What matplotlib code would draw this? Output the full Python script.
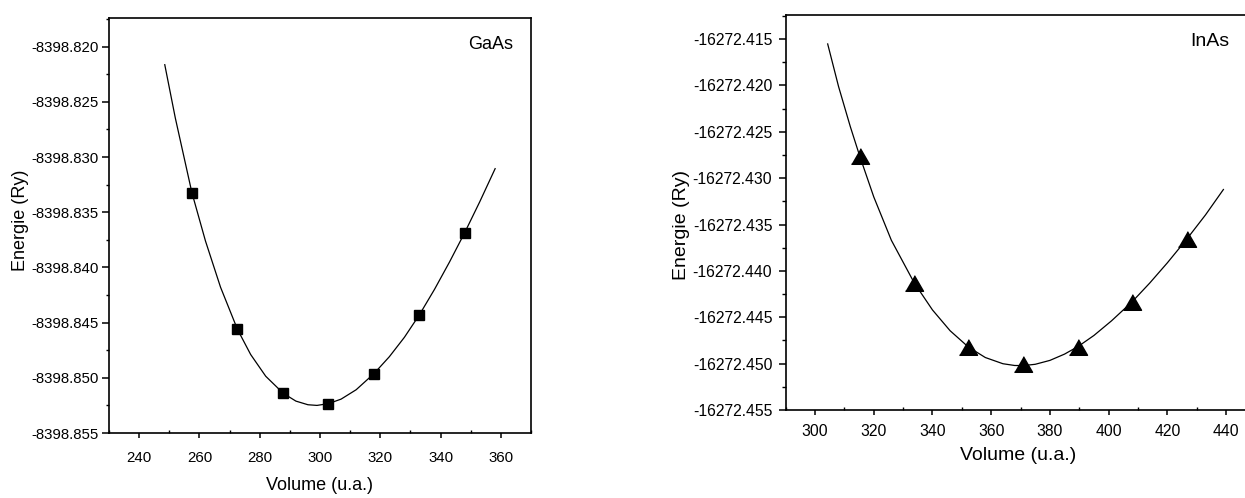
import numpy as np
import matplotlib
matplotlib.use("Agg")
import matplotlib.pyplot as plt
from matplotlib.ticker import MultipleLocator, FormatStrFormatter

plt.rcParams['font.family'] = ['Liberation Sans', 'DejaVu Sans']

# GaAs: points calculés et courbe d'ajustement
gaas_v = [257.5, 272.6, 287.8, 302.8, 317.9, 333.0, 348.0]
gaas_e = [-8398.83322, -8398.84560, -8398.85140, -8398.85234, -8398.84962, -8398.84428, -8398.83685]
gaas_fit_v = [248.5, 252.0, 257.5, 262.0, 267.0, 272.6, 277.0, 282.0, 287.8, 292.0, 296.0, 299.0,
              302.8, 307.0, 312.0, 317.9, 323.0, 328.0, 333.0, 338.0, 343.0, 348.0, 353.0, 358.1]
gaas_fit_e = [-8398.82163, -8398.82646, -8398.83322, -8398.83760, -8398.84179, -8398.84560,
              -8398.84789, -8398.84986, -8398.85140, -8398.85211, -8398.85244, -8398.85250,
              -8398.85234, -8398.85193, -8398.85108, -8398.84962, -8398.84809, -8398.84633,
              -8398.84428, -8398.84198, -8398.83949, -8398.83685, -8398.83405, -8398.83105]

# InAs
inas_v = [315.2, 333.8, 352.2, 371.0, 389.7, 408.1, 426.6]
inas_e = [-16272.42760, -16272.44129, -16272.44818, -16272.45008, -16272.44818, -16272.44340, -16272.43656]
inas_fit_v = [304.3, 308.0, 312.0, 315.2, 320.0, 326.0, 333.8, 340.0, 346.0, 352.2, 358.0, 364.0, 368.0,
              371.0, 375.0, 380.0, 385.0, 389.7, 395.0, 401.0, 408.1, 414.0, 420.0, 426.6, 433.0, 439.1]
inas_fit_e = [-16272.41552, -16272.42011, -16272.42443, -16272.42760, -16272.43202, -16272.43670,
              -16272.44130, -16272.44421, -16272.44645, -16272.44820, -16272.44934, -16272.45001,
              -16272.45020, -16272.45021, -16272.45007, -16272.44965, -16272.44897, -16272.44813,
              -16272.44696, -16272.44538, -16272.44330, -16272.44131, -16272.43913, -16272.43658,
              -16272.43396, -16272.43122]

tri = [(-1, -0.866), (1, -0.866), (0, 0.866)]

fig = plt.figure(figsize=(12.45, 4.98), dpi=100)

# --- GaAs ---
ax1 = fig.add_axes([109/1245, 65/498, 422/1245, 415/498])
ax1.plot(gaas_fit_v, gaas_fit_e, color='black', lw=0.9)
ax1.plot(gaas_v, gaas_e, 's', color='black', ms=6.5)
ax1.set_xlim(230, 370)
ax1.set_ylim(-8398.855, -8398.8174)
ax1.xaxis.set_major_locator(MultipleLocator(20))
ax1.xaxis.set_minor_locator(MultipleLocator(10))
ax1.yaxis.set_major_locator(MultipleLocator(0.005))
ax1.yaxis.set_minor_locator(MultipleLocator(0.0025))
ax1.yaxis.set_major_formatter(FormatStrFormatter('%.3f'))
ax1.tick_params(axis='y', which='major', direction='out', length=5, width=1.1, labelsize=10.8, pad=2.5)
ax1.tick_params(axis='y', which='minor', direction='out', length=2.5, width=1.0)
ax1.tick_params(axis='x', which='major', direction='out', length=3.6, width=1.1, labelsize=10.8, pad=9)
ax1.tick_params(axis='x', which='minor', direction='in', length=2.5, width=1.0)
ax1.set_xlabel('Volume (u.a.)', fontsize=13)
ax1.set_ylabel('Energie (Ry)', fontsize=13)
ax1.xaxis.set_label_coords(0.5, -0.107)
ax1.yaxis.set_label_coords(-0.19, 0.513)
ax1.text(0.905, 0.935, 'GaAs', transform=ax1.transAxes, fontsize=13, ha='center', va='center')
for s in ax1.spines.values():
    s.set_linewidth(1.2)

# --- InAs ---
ax2 = fig.add_axes([785.7/1245, 88/498, 469.7/1245, 395/498])
ax2.plot(inas_fit_v, inas_fit_e, color='black', lw=0.9)
ax2.plot(inas_v, inas_e, linestyle='none', marker=tri, color='black', ms=13)
ax2.set_xlim(290, 450)
ax2.set_ylim(-16272.455, -16272.4124)
ax2.xaxis.set_major_locator(MultipleLocator(20))
ax2.xaxis.set_minor_locator(MultipleLocator(10))
ax2.yaxis.set_major_locator(MultipleLocator(0.005))
ax2.yaxis.set_minor_locator(MultipleLocator(0.0025))
ax2.yaxis.set_major_formatter(FormatStrFormatter('%.3f'))
ax2.tick_params(axis='y', which='major', direction='out', length=5, width=1.1, labelsize=11.3, pad=4.6)
ax2.tick_params(axis='y', which='minor', direction='out', length=2.8, width=1.0)
ax2.tick_params(axis='x', which='major', direction='out', length=3.6, width=1.1, labelsize=11.3, pad=6.5)
ax2.tick_params(axis='x', which='minor', direction='in', length=2.5, width=1.0)
ax2.set_xlabel('Volume (u.a.)', fontsize=14)
ax2.set_ylabel('Energie (Ry)', fontsize=14)
ax2.xaxis.set_label_coords(0.4946, -0.093)
ax2.yaxis.set_label_coords(-0.204, 0.468)
ax2.text(0.904, 0.932, 'InAs', transform=ax2.transAxes, fontsize=14, ha='center', va='center')
for s in ax2.spines.values():
    s.set_linewidth(1.2)

fig.savefig('out.png', dpi=100)
